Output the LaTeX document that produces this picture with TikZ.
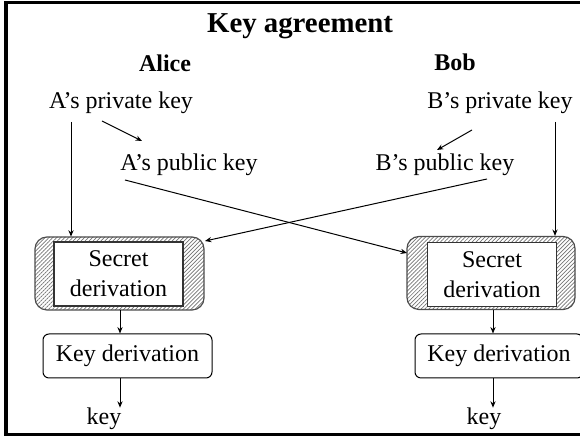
\documentclass[tikz,border=0pt]{standalone}
\usepackage{fontspec}
\setmainfont{Liberation Serif}
\usetikzlibrary{patterns.meta,arrows.meta}
\begin{document}
\begin{tikzpicture}[x=0.5pt,y=-0.5pt,
  lbl/.style={inner sep=0pt, font=\fontsize{12}{15}\selectfont},
  who/.style={inner sep=0pt, font=\fontsize{12}{15}\selectfont\bfseries},
  heading/.style={inner sep=0pt, font=\fontsize{14.4}{17}\selectfont\bfseries},
  conn/.style={line width=0.5pt, -{Stealth[length=3.2pt,width=2.6pt]}},
  hatchbox/.style={rounded corners=6pt, draw=black!70, line width=0.6pt,
    pattern={Lines[angle=45,distance=1.4pt,line width=0.35pt]}, pattern color=black!55,
    minimum width=84.5pt, minimum height=36.5pt, inner sep=0pt},
  innerbox/.style={draw=black!80, line width=0.8pt, fill=white, align=center,
    minimum width=64.5pt, minimum height=32pt, inner sep=0pt,
    font=\fontsize{12}{15}\selectfont},
  kdbox/.style={draw, rounded corners=3pt, line width=0.5pt,
    minimum width=84.5pt, minimum height=22pt, inner sep=0pt,
    font=\fontsize{12}{15}\selectfont}
]
\useasboundingbox (0,0) rectangle (580,437);
% outer frame
\draw[line width=1.5pt] (6,3) rectangle (590,435);

% headings
\node[heading] (title) at (300,26) {Key agreement};
\node[who] (alice) at (165,63) {Alice};
\node[who] (bob) at (455,62) {Bob};

% keys
\node[lbl] (aprv) at (121,103) {A’s private key};
\node[lbl] (bprv) at (500,103) {B’s private key};
\node[lbl] (apub) at (189,165) {A’s public key};
\node[lbl] (bpub) at (445,165) {B’s public key};

% secret derivation blocks
\node[hatchbox] (sdl) at (119.5,273.5) {};
\node[innerbox] (sil) at (118.5,274) {Secret\\derivation};
\node[hatchbox, minimum width=84pt] (sdr) at (491,273) {};
\node[innerbox] (sir) at (492,274.5) {Secret\\derivation};

% key derivation blocks
\node[kdbox] (kdl) at (127.5,356) {Key derivation};
\node[kdbox, minimum width=84pt] (kdr) at (499,356) {Key derivation};

% outputs
\node[lbl] (keyl) at (104,419) {key};
\node[lbl] (keyr) at (484,419) {key};

% connector ends
\coordinate (apA) at (102,121);
\coordinate (apB) at (142,141);
\coordinate (bpA) at (472,130);
\coordinate (bpB) at (437,150);
\coordinate (aout) at (125,180);
\coordinate (bout) at (487,179);
\coordinate (avert) at (71,122);
\coordinate (bvert) at (555,122);
\coordinate (ain) at (407,253);
\coordinate (bin) at (205,241);

% private -> public
\draw[conn] (apA) -- (apB);
\draw[conn] (bpA) -- (bpB);

% private keys straight down into own block
\draw[conn] (avert) -- (avert |- sdl.north);
\draw[conn] (bvert) -- (bvert |- sdr.north);

% public keys across to the other block
\draw[conn] (aout) -- (ain);
\draw[conn] (bout) -- (bin);

% down the chain
\draw[conn] (sdl.south -| 120,0) -- (kdl.north -| 120,0);
\draw[conn] (kdl.south -| 120,0) -- (keyl.north -| 120,0);
\draw[conn] (sdr.south -| 493,0) -- (kdr.north -| 493,0);
\draw[conn] (kdr.south -| 493,0) -- (keyr.north -| 493,0);
\end{tikzpicture}
\end{document}
